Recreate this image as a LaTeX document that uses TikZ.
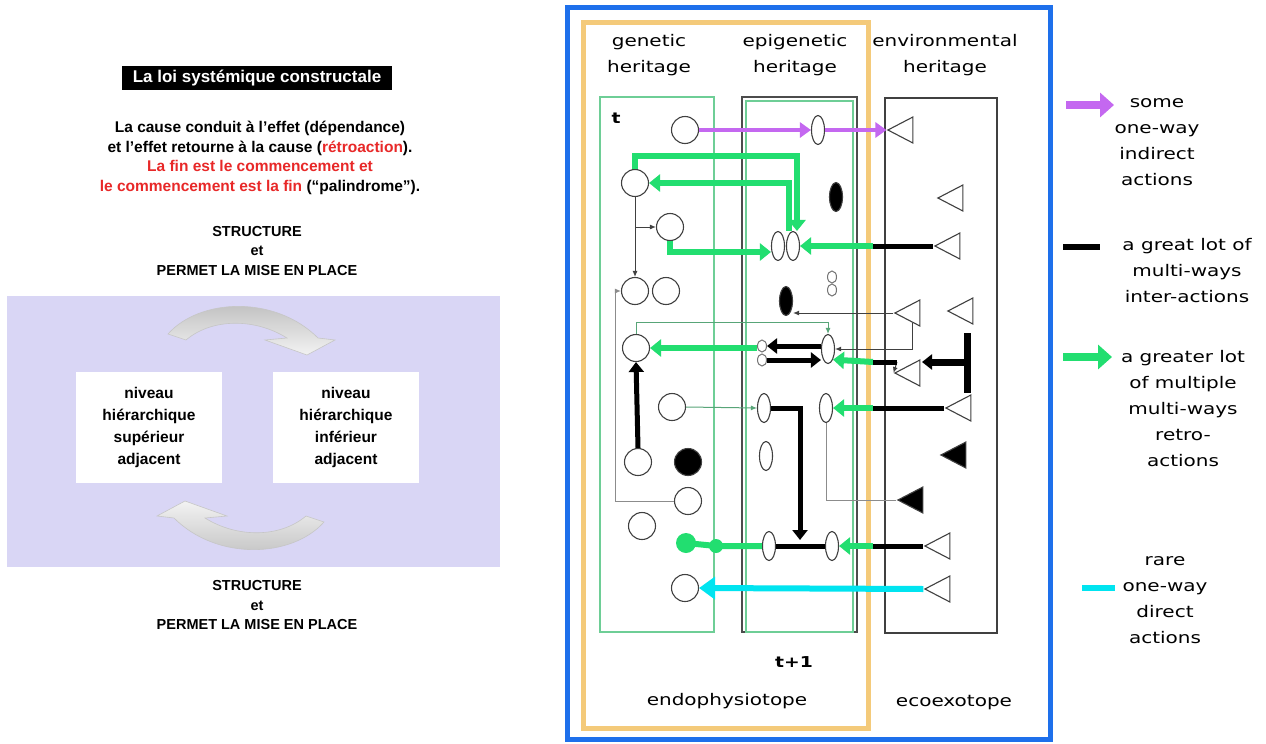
\documentclass[tikz,border=0pt]{standalone}
\usepackage{fontspec}
\setmainfont{Liberation Sans}
\newfontfamily\figfont[FakeStretch=1.25]{DejaVu Sans}
\usetikzlibrary{arrows.meta,shapes.geometric}

\definecolor{lred}{RGB}{232,40,40}
\definecolor{lav}{RGB}{217,214,245}
\definecolor{frameblue}{RGB}{30,112,235}
\definecolor{frameorange}{RGB}{244,202,122}
\definecolor{actgreen}{RGB}{34,222,112}
\definecolor{boxgreen}{RGB}{110,206,150}
\definecolor{actpurple}{RGB}{196,104,240}
\definecolor{actcyan}{RGB}{0,228,240}

\tikzset{
  ltxt/.style={font=\fontsize{15.5}{19.5}\selectfont\bfseries, align=center, inner sep=0pt},
  lbox/.style={ltxt, fill=white, minimum width=146pt, minimum height=111pt,
    font=\fontsize{15.5}{22}\selectfont\bfseries},
  rtxt/.style={font=\figfont\fontsize{16}{26}\selectfont, align=center, inner sep=0pt, text=black},
  gene/.style={circle, draw=black!75, line width=1.1pt, minimum size=27pt, inner sep=0pt},
  epi/.style={ellipse, draw=black!75, line width=1.1pt, minimum width=13pt, minimum height=29pt, inner sep=0pt},
  epismall/.style={ellipse, draw=black!55, line width=1pt, minimum width=9pt, minimum height=12pt, inner sep=0pt},
  env/.style={isosceles triangle, isosceles triangle stretches, shape border rotate=180,
    draw=black!75, line width=1.1pt, minimum width=26pt, minimum height=25pt, inner sep=0pt},
  gline/.style={draw=actgreen, line width=6pt},
  gact/.style={gline, -{Triangle[length=11pt,width=17pt]}},
  bline/.style={draw=black, line width=5pt},
  bact/.style={bline, -{Triangle[length=10pt,width=15pt]}},
  pact/.style={draw=actpurple, line width=4pt, -{Triangle[length=11pt,width=15pt]}},
  cact/.style={draw=actcyan, line width=6pt, -{Triangle[length=16pt,width=22pt]}},
  thinact/.style={draw=black!75, line width=1pt, ->},
  thingray/.style={draw=black!45, line width=1pt},
  thingreen/.style={draw=boxgreen!80!black, line width=1pt, ->},
  swirl/.style={draw=gray!45, line width=0.6pt},
}

\begin{document}
\begin{tikzpicture}[x=1pt, y=-1pt, >={Latex[length=6pt,width=5pt]}]
  \useasboundingbox[fill=white] (0,0) rectangle (1266,744);

  % --- Left panel: la loi ---
  \node[ltxt, fill=black, text=white, minimum width=270pt, minimum height=24pt,
    font=\fontsize{17}{20}\selectfont\bfseries] (title) at (257,78) {La loi systémique constructale};
  \node[ltxt] (cause) at (260,158) {La cause conduit à l'effet (dépendance)\\
    et l'effet retourne à la cause (\textcolor{lred}{rétroaction}).\\
    \textcolor{lred}{La fin est le commencement et}\\
    \textcolor{lred}{le commencement est la fin} (“palindrome”).};
  \node[ltxt, font=\fontsize{14.5}{19.5}\selectfont\bfseries] (struct1) at (257,251) {STRUCTURE\\et\\PERMET LA MISE EN PLACE};

  \fill[lav] (7,296) rectangle (500,567);
  \node[lbox] (sup) at (149,427) {niveau\\hiérarchique\\supérieur\\adjacent};
  \node[lbox] (inf) at (346,427) {niveau\\hiérarchique\\inférieur\\adjacent};

  % curved arrows between the two levels
  \path[swirl, top color=gray!55, bottom color=gray!10]
    (168,334) .. controls (200,298) and (275,295) .. (318,338) -- (335,340) -- (307,355)
    -- (265,340) -- (287,338) .. controls (255,318) and (212,318) .. (186,340) -- cycle;
  \path[swirl, top color=gray!10, bottom color=gray!50]
    (324,522) .. controls (292,558) and (217,561) .. (174,518) -- (157,516) -- (185,501)
    -- (227,516) -- (205,518) .. controls (237,538) and (280,538) .. (306,516) -- cycle;

  \node[ltxt, font=\fontsize{14.5}{19.5}\selectfont\bfseries] (struct2) at (257,605) {STRUCTURE\\et\\PERMET LA MISE EN PLACE};

  % --- Right panel: frames and columns ---
  \draw[frameblue, line width=5pt] (567,7) rectangle (1050,739);
  \draw[frameorange, line width=5pt] (583,22) rectangle (868,728);
  \draw[boxgreen, line width=1.5pt] (600,97) rectangle (714,632);
  \draw[black!70, line width=1.5pt] (742,97) rectangle (857,632);
  \draw[boxgreen, line width=1.2pt] (746,101) rectangle (853,632);
  \draw[black!75, line width=1.5pt] (885,98) rectangle (997,633);

  \node[rtxt] (hgen) at (649,55) {genetic\\heritage};
  \node[rtxt] (hepi) at (795,55) {epigenetic\\heritage};
  \node[rtxt] (henv) at (945,55) {environmental\\heritage};
  \node[rtxt, font=\figfont\bfseries\fontsize{15}{18}\selectfont] (tnow) at (616,118) {t};
  \node[rtxt, font=\figfont\bfseries\fontsize{15}{18}\selectfont] (tnext) at (794,662) {t+1};
  \node[rtxt] (endo) at (727,701) {endophysiotope};
  \node[rtxt] (ecoexo) at (954,703) {ecoexotope};

  % genetic heritage
  \node[gene] (g1) at (685,130) {};
  \node[gene] (g2) at (635,183) {};
  \node[gene] (g3) at (670,227) {};
  \node[gene] (g4a) at (635,291) {};
  \node[gene] (g4b) at (666,291) {};
  \node[gene] (g5) at (636,348) {};
  \node[gene] (g6) at (672,407) {};
  \node[gene] (g7) at (638,462) {};
  \node[gene, fill=black] (gdot) at (688,462) {};
  \node[gene] (g8) at (688,501) {};
  \node[gene] (g9) at (642,526) {};
  \node[gene] (g10) at (685,588) {};

  % epigenetic heritage
  \node[epi] (o1) at (818,130) {};
  \node[epi, fill=black] (ob1) at (836,197) {};
  \node[epi] (o2a) at (778,246) {};
  \node[epi] (o2b) at (793,246) {};
  \node[epismall] (os1) at (832,277) {};
  \node[epismall] (os2) at (832,290) {};
  \node[epi, fill=black] (ob2) at (786,301) {};
  \node[epismall] (ok1) at (762,346) {};
  \node[epismall] (ok2) at (762,360) {};
  \node[epi] (o3) at (828,349) {};
  \node[epi] (o4) at (764,408) {};
  \node[epi] (o5) at (826,408) {};
  \node[epi] (o6) at (766,456) {};
  \node[epi] (o7) at (769,546) {};
  \node[epi] (o8) at (832,546) {};

  % environmental heritage
  \node[env] (e1) at (905,130) {};
  \node[env] (e2) at (955,198) {};
  \node[env] (e3) at (952,246) {};
  \node[env] (e4) at (912,313) {};
  \node[env] (e5) at (965,311) {};
  \node[env] (e6) at (912,373) {};
  \node[env] (e7) at (963,408) {};
  \node[env, fill=black] (e8) at (958,455) {};
  \node[env, fill=black] (e9) at (915,500) {};
  \node[env] (e10) at (942,546) {};
  \node[env] (e11) at (942,589) {};

  \coordinate (j3) at (873,246);
  \coordinate (j6) at (873,362);
  \coordinate (j6b) at (897,362);
  \coordinate (j7) at (873,408);
  \coordinate (j10) at (873,546);
  \coordinate (tbar) at (800,540);
  \coordinate (bk1) at (967,333);
  \coordinate (bk2) at (967,393);
  \coordinate (bk3) at (967,362);
  \coordinate (bk4) at (922,362);

  % thin links
  \draw[thinact] (g2.south) -- (g4a.north);
  \draw[thinact] (g2.south |- g3) -- (g3.west);
  \draw[thingray, ->] (g8.west) -- ++(-58,0) |- (g4a.west);
  \draw[thingreen] (g6.east) -- (o4.west);
  \draw[thingreen] (g5.north) -- ++(0,-11) -| (o3.north);
  \draw[thinact] (e4.apex) -- (ob2.east |- e4.apex);
  \draw[thinact] (e4.south) |- (o3.east);
  \draw[thingray] (o5.south) |- (e9.apex);
  \draw[thinact] (j6b) -- (e6.apex);

  % one-way indirect actions
  \draw[pact] (g1.east) -- (o1.west);
  \draw[pact] (o1.east) -- (e1.apex);

  % retro-actions
  \draw[gact] (g2.north) -- ++(0,-13) -| ([xshift=4pt]o2b.north);
  \draw[gact] ([xshift=-4pt]o2b.north) |- (g2.east);
  \draw[gact] (g3.south) |- ([yshift=-6pt]o2a.west);
  \draw[gact] (ok1.west |- g5) -- (g5.east);
  \draw[gact] (j3) -- (o2b.east);
  \draw[gact] (j6) -- (o3.south east);
  \draw[gact] (j7) -- (o5.east);
  \draw[gact] (j10) -- (o8.east);
  \node[circle, fill=actgreen, minimum size=14pt, inner sep=0pt] (gd2) at (716,546) {};
  \node[circle, fill=actgreen, minimum size=20pt, inner sep=0pt] (gd1) at (686,543) {};
  \draw[gline] (o7.west) -- (gd2.center) -- (gd1.center);

  % inter-actions
  \draw[bline] (e3.apex) -- (j3);
  \draw[bline] (j6) -- (j6b);
  \draw[bline] (e7.apex) -- (j7);
  \draw[bline] (e10.apex) -- (j10);
  \draw[bact] (o3.west |- ok1) -- (ok1.east);
  \draw[bact] (ok2.east) -- (o3.west |- ok2);
  \draw[bact] (g7.north) -- (g5.south);
  \draw[bact] (o4.east) -| (tbar);
  \draw[bline] (o7.east) -- (o8.west);
  \draw[bline, line width=7pt] (bk1) -- (bk2);
  \draw[bact, line width=7pt] (bk3) -- (bk4);

  % direct action
  \draw[cact] (e11.apex) -- (g10.east);

  % --- Legend ---
  \coordinate (lp1) at (1066,105);  \coordinate (lp2) at (1114,105);
  \coordinate (lb1) at (1063,247);  \coordinate (lb2) at (1100,247);
  \coordinate (lg1) at (1063,357);  \coordinate (lg2) at (1112,357);
  \coordinate (lc1) at (1082,588);  \coordinate (lc2) at (1115,588);
  \draw[actpurple, line width=8pt, -{Triangle[length=14pt,width=24pt]}] (lp1) -- (lp2);
  \draw[black, line width=6pt] (lb1) -- (lb2);
  \draw[actgreen, line width=8pt, -{Triangle[length=14pt,width=24pt]}] (lg1) -- (lg2);
  \draw[actcyan, line width=6pt] (lc1) -- (lc2);
  \node[rtxt] (lt1) at (1157,142) {some\\one-way\\indirect\\actions};
  \node[rtxt] (lt2) at (1187,271) {a great lot of\\multi-ways\\inter-actions};
  \node[rtxt] (lt3) at (1183,409) {a greater lot\\of multiple\\multi-ways\\retro-\\actions};
  \node[rtxt] (lt4) at (1165,600) {rare\\one-way\\direct\\actions};
\end{tikzpicture}
\end{document}
